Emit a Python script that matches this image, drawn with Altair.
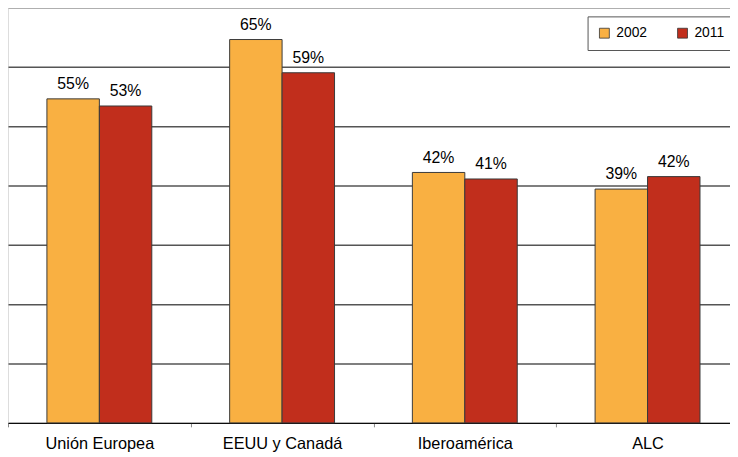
import altair as alt
import pandas as pd

regions = ["Unión Europea", "EEUU y Canadá", "Iberoamérica", "ALC"]
years = ["2002", "2011"]
v2002 = [54.6, 64.6, 42.2, 39.4]
v2011 = [53.4, 59.0, 41.1, 41.5]
grid_values = [0, 10, 20, 30, 40, 50, 60, 70]
colors = ["#F9B042", "#C12E1C"]

rows = []
for i, r in enumerate(regions):
    rows.append({"region": r, "year": years[0], "value": v2002[i]})
    rows.append({"region": r, "year": years[1], "value": v2011[i]})
df = pd.DataFrame(rows)

FONT = "Liberation Sans"

base = alt.Chart(df).transform_calculate(
    label="format(datum.value, '.0f') + '%'"
).encode(
    x=alt.X(
        "region:N",
        sort=regions,
        scale=alt.Scale(paddingInner=0, paddingOuter=0),
        axis=alt.Axis(
            title=None,
            labelAngle=0,
            labelFontSize=16.5,
            labelFont=FONT,
            labelColor="#000000",
            labelPadding=9,
            tickBand="extent",
            tickSize=4,
            tickColor="#888888",
            domainColor="#000000",
            domainWidth=1,
            grid=False,
        ),
    ),
    xOffset=alt.XOffset(
        "year:N",
        sort=years,
        scale=alt.Scale(paddingInner=0, paddingOuter=0.742),
    ),
    y=alt.Y(
        "value:Q",
        scale=alt.Scale(domain=[0, 70], nice=False, zero=True),
        axis=alt.Axis(
            title=None,
            values=grid_values,
            labels=False,
            ticks=False,
            domain=False,
            grid=True,
            gridColor=alt.condition("datum.value == 70", alt.value("#9a9a9a"), alt.value("#555555")),
            gridWidth=1.5,
        ),
    ),
)

bars = base.mark_bar(stroke="#3a3a3a", strokeWidth=1).encode(
    color=alt.Color(
        "year:N",
        sort=years,
        scale=alt.Scale(domain=years, range=colors),
        legend=alt.Legend(
            title=None,
            orient="none",
            legendX=586,
            legendY=9,
            direction="horizontal",
            symbolType="square",
            symbolSize=100,
            symbolStrokeColor="#333333",
            symbolStrokeWidth=0.8,
            labelFontSize=14,
            labelFont=FONT,
            labelColor="#000000",
            labelOffset=5,
            columnPadding=28,
            padding=10,
            strokeColor="#555555",
            fillColor="#ffffff",
        ),
    )
)

text = base.mark_text(
    dy=-10, baseline="alphabetic", fontSize=16, font=FONT, color="#000000"
).encode(text="label:N")

chart = (bars + text).properties(
    width=739,
    height=420,
    autosize=alt.AutoSizeParams(type="none"),
    padding={"left": 0, "top": -3, "right": -9, "bottom": 30},
).configure_view(stroke=None).configure(background="#ffffff")

chart.save("out.html", embed_options={"renderer": "svg", "actions": False})
